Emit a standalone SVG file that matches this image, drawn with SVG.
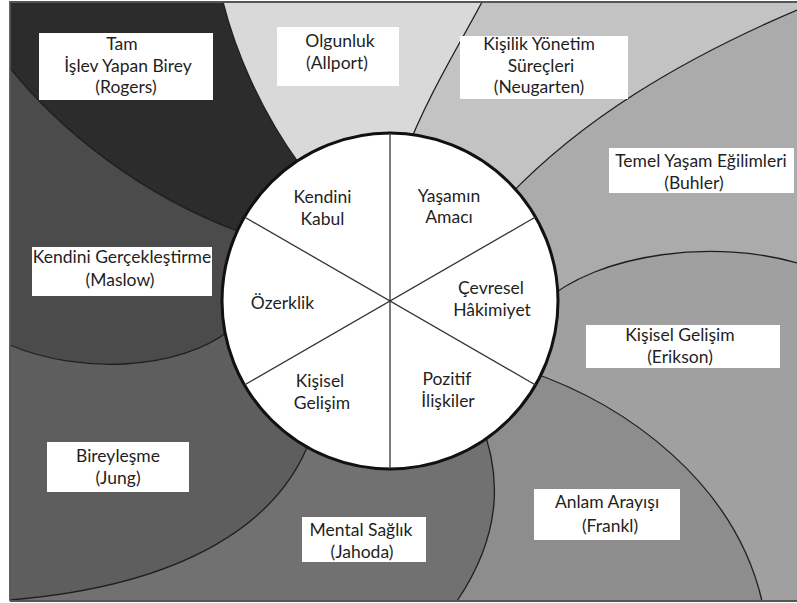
<svg xmlns="http://www.w3.org/2000/svg" width="797" height="603" viewBox="0 0 797 603">
<style>
text{font-family:Lato,"Open Sans","Liberation Sans",sans-serif;font-size:17.5px;fill:#1f1f1f;text-anchor:middle}
.box{fill:#ffffff}
.edge{fill:none;stroke:#1e1e1e;stroke-width:1.3}
.spoke{stroke:#333;stroke-width:1.3}
</style>
<rect x="0" y="0" width="797" height="603" fill="#ffffff"/>
<g id="regions">
<path id="r-rogers" fill="#2c2c2c" d="M10,2 L223,2 C235,50 260,110 300,165 L390,301 L240,232 C140,195 60,130 10,68 Z"/>
<path id="r-olgunluk" fill="#d9d9d9" d="M223,2 L482,2 C462,40 425,100 405,155 L390,301 L300,165 C260,110 235,50 223,2 Z"/>
<path id="r-kisilik" fill="#c3c3c3" d="M482,2 L797,2 L797,10 C680,60 580,120 505,200 L390,301 L405,155 C425,100 462,40 482,2 Z"/>
<path id="r-buhler" fill="#ababab" d="M505,200 C580,120 680,60 797,10 L797,263 C720,240 600,250 540,305 L390,301 Z"/>
<path id="r-erikson" fill="#a0a0a0" d="M540,305 C600,250 720,240 797,263 L797,601 L762,601 C735,485 630,405 525,370 L390,301 Z"/>
<path id="r-frankl" fill="#8d8d8d" d="M525,370 C630,405 735,485 762,601 L457,601 C505,530 500,470 480,420 L390,301 Z"/>
<path id="r-jahoda" fill="#717171" d="M310,440 C280,520 190,585 10,600 L10,601 L457,601 C505,530 500,470 480,420 L390,301 Z"/>
<path id="r-jung" fill="#5e5e5e" d="M10,345 C80,375 180,370 230,330 L390,301 L310,440 C280,520 190,585 10,600 Z"/>
<path id="r-maslow" fill="#4b4b4b" d="M10,68 C60,130 140,195 240,232 L390,301 L230,330 C180,370 80,375 10,345 Z"/>
</g>
<g id="connectors">
<path class="edge" d="M223,2 C235,50 260,110 300,165"/>
<path class="edge" d="M482,2 C462,40 425,100 405,155"/>
<path class="edge" d="M797,10 C680,60 580,120 505,200"/>
<path class="edge" d="M540,305 C600,250 720,240 797,263"/>
<path class="edge" d="M525,370 C630,405 735,485 762,601"/>
<path class="edge" d="M480,420 C500,470 505,530 457,601"/>
<path class="edge" d="M310,440 C280,520 190,585 10,600"/>
<path class="edge" d="M10,345 C80,375 180,370 230,330"/>
<path class="edge" d="M10,68 C60,130 140,195 240,232" stroke="#262626"/>
</g>
<path id="frame" d="M10,601 L10,2 L797,2 M10,601 L797,601" fill="none" stroke="#555" stroke-width="1.8"/>
<g id="wheel">
<circle cx="390" cy="301" r="168" fill="#ffffff" stroke="#111" stroke-width="3"/>
<line class="spoke" x1="390" y1="133" x2="390" y2="469"/>
<line class="spoke" x1="244.5" y1="217" x2="535.5" y2="385"/>
<line class="spoke" x1="244.5" y1="385" x2="535.5" y2="217"/>
</g>
<g id="kendini-kabul"><text x="322.5" y="203">Kendini</text><text x="322.5" y="225">Kabul</text></g>
<g id="yasamin-amaci"><text x="449" y="202">Yaşamın</text><text x="449" y="223">Amacı</text></g>
<g id="cevresel-hakimiyet"><text x="491" y="294">Çevresel</text><text x="492" y="316">Hâkimiyet</text></g>
<g id="ozerklik"><text x="282.5" y="309">Özerklik</text></g>
<g id="kisisel-gelisim-ic"><text x="320" y="387">Kişisel</text><text x="322" y="409">Gelişim</text></g>
<g id="pozitif-iliskiler"><text x="447" y="385">Pozitif</text><text x="448" y="407">İlişkiler</text></g>
<g id="rogers"><rect class="box" x="39" y="33" width="174" height="67"/><text x="122" y="50">Tam</text><text x="128" y="72">İşlev Yapan Birey</text><text x="126" y="93">(Rogers)</text></g>
<g id="allport"><rect class="box" x="277" y="27" width="122" height="59"/><text x="340" y="47">Olgunluk</text><text x="337" y="69">(Allport)</text></g>
<g id="neugarten"><rect class="box" x="460" y="36" width="168" height="63"/><text x="539" y="50">Kişilik Yönetim</text><text x="541" y="72">Süreçleri</text><text x="539" y="93">(Neugarten)</text></g>
<g id="buhler"><rect class="box" x="609" y="148" width="185" height="45"/><text x="701" y="167">Temel Yaşam Eğilimleri</text><text x="694" y="189">(Buhler)</text></g>
<g id="maslow"><rect class="box" x="32" y="247" width="180" height="49"/><text x="122" y="263">Kendini Gerçekleştirme</text><text x="120" y="286">(Maslow)</text></g>
<g id="erikson"><rect class="box" x="586" y="325" width="194" height="43"/><text x="680" y="341">Kişisel Gelişim</text><text x="680" y="363">(Erikson)</text></g>
<g id="frankl"><rect class="box" x="534" y="489" width="146" height="51"/><text x="607" y="508">Anlam Arayışı</text><text x="610" y="532">(Frankl)</text></g>
<g id="jahoda"><rect class="box" x="302" y="517" width="124" height="45"/><text x="361" y="536">Mental Sağlık</text><text x="362" y="558">(Jahoda)</text></g>
<g id="jung"><rect class="box" x="47" y="442" width="142" height="50"/><text x="118" y="462">Bireyleşme</text><text x="118" y="484">(Jung)</text></g>
</svg>
